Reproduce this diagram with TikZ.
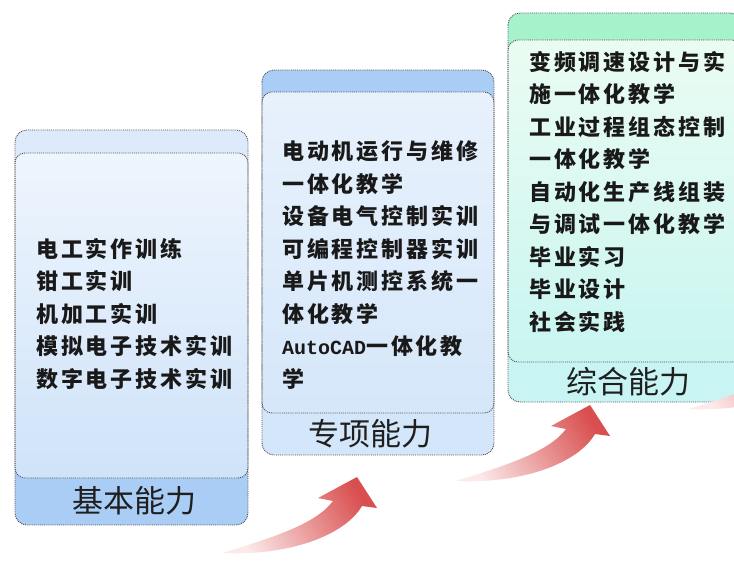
\documentclass[tikz,border=0pt]{standalone}
\usepackage{fontspec}
\newfontfamily\cjkitem[LetterSpace=13]{Noto Sans CJK SC}
\newfontfamily\cjklabel{Noto Sans CJK SC}
\newfontfamily\monob{Liberation Mono}
\definecolor{aTop}{HTML}{DCEAFB}
\definecolor{aInA}{HTML}{EEF5FD}
\definecolor{aInB}{HTML}{CFE3F9}
\definecolor{aBot}{HTML}{A9CDF5}
\definecolor{bTop}{HTML}{A9CDF5}
\definecolor{bInA}{HTML}{E8F1FC}
\definecolor{bInB}{HTML}{D5E7FA}
\definecolor{bBot}{HTML}{D3E6FA}
\definecolor{cTop}{HTML}{A6F3CB}
\definecolor{cInA}{HTML}{EAFCF2}
\definecolor{cInB}{HTML}{C9F5F1}
\definecolor{cBot}{HTML}{C8F5F3}
\definecolor{arrHead}{HTML}{D94E4E}
\definecolor{arrMid}{HTML}{E99090}
\definecolor{arrTail}{HTML}{FCEAEA}
\tikzset{
  boxline/.style={draw=black!70, densely dotted, line width=0.9pt},
  itemtext/.style={anchor=west, align=left, inner sep=0pt,
    font=\cjkitem\bfseries\fontsize{22}{32.5}\selectfont, text=black!90},
  captext/.style={inner sep=0pt, font=\cjklabel\fontsize{31}{32}\selectfont, text=black!88},
  arrowfill/.style={top color=arrHead, middle color=arrMid, bottom color=arrTail, shading angle=-60},
}
\newcommand\arrowshape{(223,553) .. controls (270,538) and (315,525) .. (333,501) -- (318,498) -- (357,477) -- (377,508) -- (362,506) .. controls (345,535) and (290,556) .. (223,553) -- cycle}
\begin{document}
\begin{tikzpicture}[x=1pt,y=-1pt]
\useasboundingbox (0,0) rectangle (734,560);
\clip (0,0) rectangle (734,560);
\fill[white] (0,0) rectangle (734,560);

% ---------- box 1 ----------
\begin{scope}
  \clip[rounded corners=12pt] (15,130) rectangle (248,525);
  \fill[aTop] (15,130) rectangle (248,170);
  \fill[aBot] (15,460) rectangle (248,525);
\end{scope}
\shade[rounded corners=10pt, top color=aInA, bottom color=aInB] (15,153) rectangle (248,478);
\draw[boxline, rounded corners=12pt] (15,130) rectangle (248,525);
\draw[boxline, rounded corners=10pt] (15,153) rectangle (248,478);
\node[itemtext] (b1items) at (36,314) {电工实作训练\\钳工实训\\机加工实训\\模拟电子技术实训\\数字电子技术实训};
\node[captext] (b1cap) at (134,501) {基本能力};

% ---------- box 2 ----------
\begin{scope}
  \clip[rounded corners=12pt] (262,70) rectangle (494,455);
  \fill[bTop] (262,70) rectangle (494,110);
  \fill[bBot] (262,395) rectangle (494,455);
\end{scope}
\shade[rounded corners=10pt, top color=bInA, bottom color=bInB] (262,92) rectangle (494,413);
\draw[boxline, rounded corners=12pt] (262,70) rectangle (494,455);
\draw[boxline, rounded corners=10pt] (262,92) rectangle (494,413);
\node[itemtext] (b2items) at (282,265) {电动机运行与维修\\一体化教学\\设备电气控制实训\\可编程控制器实训\\单片机测控系统一\\体化教学\\{\monob\bfseries\fontsize{20}{32.5}\selectfont AutoCAD}一体化教\\学};
\node[captext] (b2cap) at (370,434) {专项能力};

% ---------- box 3 ----------
\begin{scope}
  \clip[rounded corners=12pt] (508,13) rectangle (742,402);
  \fill[cTop] (508,13) rectangle (742,55);
  \fill[cBot] (508,345) rectangle (742,402);
\end{scope}
\shade[rounded corners=10pt, top color=cInA, bottom color=cInB] (508,40) rectangle (742,362);
\draw[boxline, rounded corners=12pt] (508,13) rectangle (742,402);
\draw[boxline, rounded corners=10pt] (508,40) rectangle (742,362);
\node[itemtext] (b3items) at (529,191.5) {变频调速设计与实\\施一体化教学\\工业过程组态控制\\一体化教学\\自动化生产线组装\\与调试一体化教学\\毕业实习\\毕业设计\\社会实践};
\node[captext] (b3cap) at (628,382) {综合能力};

% ---------- arrows ----------
\shade[arrowfill] \arrowshape;
\begin{scope}[shift={(233,-72)}]
  \shade[arrowfill] \arrowshape;
\end{scope}
\begin{scope}[shift={(466,-144)}]
  \shade[arrowfill] \arrowshape;
\end{scope}
\end{tikzpicture}
\end{document}
